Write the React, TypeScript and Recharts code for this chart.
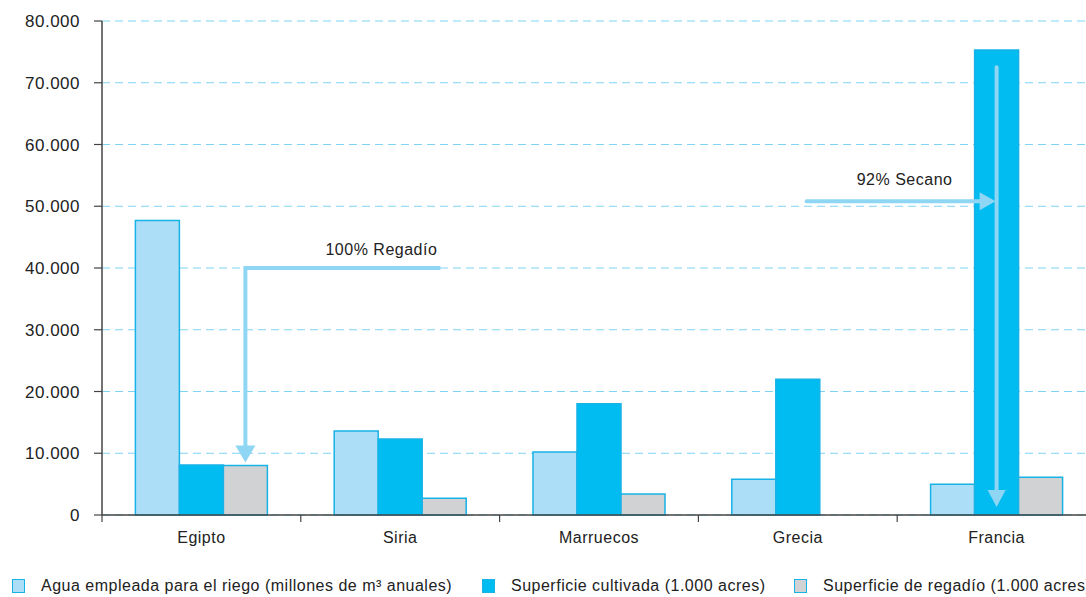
import React from "react";
import {
  BarChart,
  Bar,
  XAxis,
  YAxis,
  CartesianGrid,
  Rectangle,
} from "recharts";

const categories = ["Egipto", "Siria", "Marruecos", "Grecia", "Francia"];
const aguaRiego = [47700, 13600, 10200, 5800, 5000];
const superficieCultivada = [8100, 12300, 18000, 22000, 75300];
const superficieRegadio = [8000, 2700, 3400, 0, 6100];
const yTicks = [0, 10000, 20000, 30000, 40000, 50000, 60000, 70000, 80000];

const seriesNames = [
  "Agua empleada para el riego (millones de m³ anuales)",
  "Superficie cultivada (1.000 acres)",
  "Superficie de regadío (1.000 acres)",
];

// annotation anchors, in data units
const regadioNote = { category: "Egipto", text: "100% Regadío", level: 40000 };
const secanoNote = {
  category: "Francia",
  text: "92% Secano",
  level: 50800,
  top: 72500,
  bottom: 1300,
};

const data = categories.map((name, i) => ({
  name,
  agua: aguaRiego[i],
  cultivada: superficieCultivada[i],
  regadio: superficieRegadio[i],
}));

const FONT = "'Liberation Sans', Arial, sans-serif";
const TEXT = "#222";
const ARROW = "#8ed6f4";
const BORDER = "#17b2e6";
const COLORS = { agua: "#acdff7", cultivada: "#00bcf1", regadio: "#d1d2d4" };

const fmt = (v: number) =>
  v === 0 ? "0" : v.toLocaleString("de-DE", { maximumFractionDigits: 0 });

const BarShape = (key: "agua" | "cultivada" | "regadio") => (props: any) => {
  const { x, y, width, height, payload } = props;
  const value = payload[key];
  const cx = x + width / 2;
  const base = y + height;
  const ppu = value ? height / value : 0;
  const rect = (
    <Rectangle
      x={x}
      y={y}
      width={width}
      height={height}
      fill={COLORS[key]}
      stroke={BORDER}
      strokeWidth={1.5}
    />
  );

  if (key === "regadio" && payload.name === regadioNote.category) {
    const yl = base - regadioNote.level * ppu;
    const tip = y - 3;
    return (
      <g>
        {rect}
        <polyline
          points={`${cx + 195},${yl} ${cx},${yl} ${cx},${tip - 15}`}
          stroke={ARROW}
          strokeWidth={4}
          fill="none"
        />
        <polygon
          points={`${cx - 10},${tip - 17} ${cx + 10},${tip - 17} ${cx},${tip}`}
          fill={ARROW}
        />
        <text
          x={cx + 136}
          y={yl - 13}
          textAnchor="middle"
          fontSize={16}
          letterSpacing={0.5}
          fill={TEXT}
          fontFamily={FONT}
        >
          {regadioNote.text}
        </text>
      </g>
    );
  }

  if (key === "cultivada" && payload.name === secanoNote.category) {
    const yTop = base - secanoNote.top * ppu;
    const yBot = base - secanoNote.bottom * ppu;
    const yH = base - secanoNote.level * ppu;
    return (
      <g>
        {rect}
        <line
          x1={cx}
          y1={yTop}
          x2={cx}
          y2={yBot - 15}
          stroke={ARROW}
          strokeWidth={4}
          strokeLinecap="round"
        />
        <polygon
          points={`${cx - 9},${yBot - 17} ${cx + 9},${yBot - 17} ${cx},${yBot}`}
          fill={ARROW}
        />
        <line
          x1={cx - 190}
          y1={yH}
          x2={cx - 15}
          y2={yH}
          stroke={ARROW}
          strokeWidth={4}
          strokeLinecap="round"
        />
        <polygon
          points={`${cx - 17},${yH - 9} ${cx - 17},${yH + 9} ${cx - 1},${yH}`}
          fill={ARROW}
        />
        <text
          x={cx - 92}
          y={yH - 16}
          textAnchor="middle"
          fontSize={16}
          letterSpacing={0.5}
          fill={TEXT}
          fontFamily={FONT}
        >
          {secanoNote.text}
        </text>
      </g>
    );
  }
  return rect;
};

const CategoryTick = (props: any) => {
  const { x, y, payload } = props;
  const off = payload.offset ?? 99.5;
  return (
    <g>
      <line x1={x - off} y1={y} x2={x - off} y2={y + 7} stroke="#444" strokeWidth={1.2} />
      <text
        x={x}
        y={y + 28}
        textAnchor="middle"
        fontSize={16}
        letterSpacing={0.5}
        fill={TEXT}
        fontFamily={FONT}
      >
        {payload.value}
      </text>
    </g>
  );
};

const legendItems = [
  { label: seriesNames[0], color: COLORS.agua, left: 12 },
  { label: seriesNames[1], color: COLORS.cultivada, left: 482 },
  { label: seriesNames[2], color: COLORS.regadio, left: 794 },
];

export default function App() {
  return (
    <div
      style={{
        position: "absolute",
        left: 0,
        top: 0,
        width: 1086,
        height: 597,
        overflow: "hidden",
        background: "#fff",
        fontFamily: FONT,
      }}
    >
      <BarChart
        width={1099}
        height={560}
        data={data}
        margin={{ top: 21, right: 3, bottom: 5, left: 0 }}
        barCategoryGap="16.8%"
        barGap={0}
      >
        <CartesianGrid
          vertical={false}
          stroke="#7fd3f3"
          strokeDasharray="8 5"
          strokeWidth={1.2}
        />
        <XAxis
          dataKey="name"
          axisLine={{ stroke: "#444", strokeWidth: 1.5 }}
          tickLine={false}
          tickSize={0}
          tickMargin={0}
          height={40}
          interval={0}
          tick={<CategoryTick />}
        />
        <YAxis
          width={102}
          domain={[0, 80000]}
          ticks={yTicks}
          tickFormatter={fmt}
          axisLine={{ stroke: "#444", strokeWidth: 1.5 }}
          tickLine={{ stroke: "#444", strokeWidth: 1.2 }}
          tickSize={8}
          tickMargin={14}
          tick={{ fontSize: 17, fill: TEXT, fontFamily: FONT, letterSpacing: 0.5 }}
        />
        <Bar dataKey="agua" name={seriesNames[0]} isAnimationActive={false} shape={BarShape("agua")} />
        <Bar dataKey="cultivada" name={seriesNames[1]} isAnimationActive={false} shape={BarShape("cultivada")} />
        <Bar dataKey="regadio" name={seriesNames[2]} isAnimationActive={false} shape={BarShape("regadio")} />
      </BarChart>
      {legendItems.map((it) => (
        <div
          key={it.label}
          style={{
            position: "absolute",
            left: it.left,
            top: 577,
            display: "flex",
            alignItems: "center",
            whiteSpace: "nowrap",
            fontSize: 16,
            letterSpacing: 0.5,
            color: TEXT,
          }}
        >
          <span
            style={{
              display: "inline-block",
              width: 11,
              height: 12,
              background: it.color,
              border: `1.5px solid ${BORDER}`,
              marginRight: 16,
            }}
          />
          {it.label}
        </div>
      ))}
    </div>
  );
}
